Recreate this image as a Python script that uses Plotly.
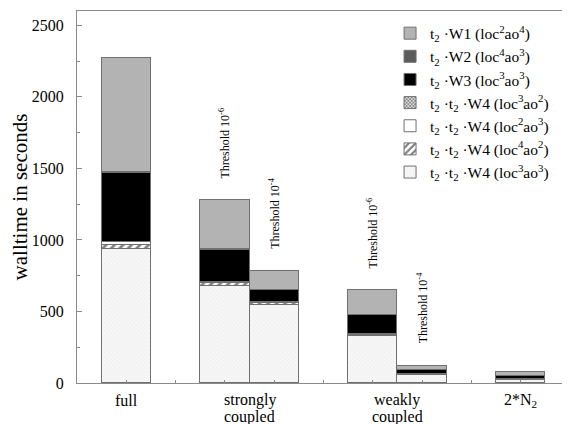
import plotly.graph_objects as go

# ---------------- data ----------------
bar_positions = [1, 3, 4, 6, 7, 9]
# bottom -> top of each stack
w4_loc3ao3 = [934, 680, 543, 328, 56, 24]
w4_loc4ao2 = [32, 18, 14, 10, 4, 2]
w4_loc2ao3 = [17, 8, 7, 6, 2, 2]
w4_loc3ao2 = [4, 2, 2, 2, 1, 1]
w3_loc3ao3 = [478, 225, 83, 128, 28, 20]
w2_loc4ao3 = [12, 3, 2, 2, 2, 1]
w1_loc2ao4 = [797, 342, 131, 173, 28, 25]

series_names = [
    "t<sub>2</sub> ·t<sub>2</sub> ·W4 (loc<sup>3</sup>ao<sup>3</sup>)",
    "t<sub>2</sub> ·t<sub>2</sub> ·W4 (loc<sup>4</sup>ao<sup>2</sup>)",
    "t<sub>2</sub> ·t<sub>2</sub> ·W4 (loc<sup>2</sup>ao<sup>3</sup>)",
    "t<sub>2</sub> ·t<sub>2</sub> ·W4 (loc<sup>3</sup>ao<sup>2</sup>)",
    "t<sub>2</sub> ·W3 (loc<sup>3</sup>ao<sup>3</sup>)",
    "t<sub>2</sub> ·W2 (loc<sup>4</sup>ao<sup>3</sup>)",
    "t<sub>2</sub> ·W1 (loc<sup>2</sup>ao<sup>4</sup>)",
]
series_values = [w4_loc3ao3, w4_loc4ao2, w4_loc2ao3, w4_loc3ao2,
                 w3_loc3ao3, w2_loc4ao3, w1_loc2ao4]

group_positions = [1, 3.5, 6.5, 9]
group_label_lines = [["full"], ["strongly", "coupled"], ["weakly", "coupled"], ["2*N<sub>2</sub>"]]

threshold_positions = [3, 4, 6, 7]
threshold_labels = ["Threshold 10<sup>-6</sup>", "Threshold 10<sup>-4</sup>",
                    "Threshold 10<sup>-6</sup>", "Threshold 10<sup>-4</sup>"]

y_ticks = [0, 500, 1000, 1500, 2000, 2500]

# ---------------- styles ----------------
FONT = "Liberation Serif"
EDGE = "#707070"
AX = "#8a8a8a"
styles = [
    dict(color="#f2f2f2", pattern=dict(shape="x", fgcolor="#cfcfcf", bgcolor="#f7f7f7", size=3, solidity=0.15)),
    dict(color="white", pattern=dict(shape="/", fgcolor="black", bgcolor="white", size=6, solidity=0.45)),
    dict(color="white"),
    dict(color="#333333", pattern=dict(shape="x", fgcolor="black", bgcolor="white", size=3, solidity=0.6)),
    dict(color="black"),
    dict(color="#5c5c5c"),
    dict(color="#b3b3b3"),
]

fig = go.Figure()
for name, vals, st in zip(series_names, series_values, styles):
    marker = dict(color=st["color"], line=dict(color=EDGE, width=1))
    if "pattern" in st:
        marker["pattern"] = st["pattern"]
    fig.add_trace(go.Bar(x=bar_positions, y=vals, name=name, width=1, marker=marker))

totals = [sum(v[i] for v in series_values) for i in range(len(bar_positions))]

annotations = []
for xp, lab in zip(threshold_positions, threshold_labels):
    yv = totals[bar_positions.index(xp)]
    annotations.append(dict(x=xp, y=yv, xref="x", yref="y", text=lab, textangle=-90,
                            showarrow=False, xanchor="center", yanchor="bottom", yshift=20,
                            font=dict(family=FONT, size=12, color="black")))
for xp, lines in zip(group_positions, group_label_lines):
    for k, line in enumerate(lines):
        annotations.append(dict(x=xp, y=0, xref="x", yref="paper", text=line, showarrow=False,
                                xanchor="center", yanchor="middle", yshift=-17 - 17 * k,
                                font=dict(family=FONT, size=16, color="black")))

# the page body has an 8px margin, so the figure is sized to end at the window edge
fig.update_layout(
    width=562, height=416, autosize=False,
    margin=dict(l=69, r=0, t=3, b=41),
    paper_bgcolor="white", plot_bgcolor="white",
    barmode="stack", bargap=0,
    font=dict(family=FONT, size=16, color="black"),
    showlegend=True,
    legend=dict(x=0.635, y=0.985, xanchor="left", yanchor="top", traceorder="reversed",
                bgcolor="rgba(255,255,255,0)", font=dict(family=FONT, size=15.5, color="black"),
                tracegroupgap=0),
    xaxis=dict(range=[0, 10], tickvals=list(range(1, 10)), showticklabels=False,
               ticks="inside", ticklen=3, tickcolor=AX, showline=True, linecolor=AX, linewidth=1,
               showgrid=False, zeroline=False, mirror=True),
    xaxis2=dict(range=[0, 10], overlaying="x", side="top", anchor="y", dtick=0.5, tick0=0,
                showticklabels=False, ticks="inside", ticklen=3, tickcolor=AX, showline=False,
                showgrid=False, zeroline=False),
    yaxis=dict(range=[0, 2600], tickvals=y_ticks, ticks="inside", ticklen=5, tickcolor=AX,
               minor=dict(ticks="inside", dtick=250, ticklen=3, tickcolor=AX),
               showline=True, linecolor=AX, linewidth=1, mirror=True, showgrid=False, zeroline=False,
               ticklabelstandoff=9,
               tickfont=dict(family=FONT, size=16, color="black"),
               title=dict(text="walltime in seconds", font=dict(family=FONT, size=21, color="black"),
                          standoff=4)),
    yaxis2=dict(range=[0, 2600], overlaying="y", side="right", anchor="x", tickvals=y_ticks,
                showticklabels=False, ticks="inside", ticklen=3, tickcolor=AX, showline=False,
                showgrid=False, zeroline=False),
    annotations=annotations,
)

fig.write_html("out.html")
